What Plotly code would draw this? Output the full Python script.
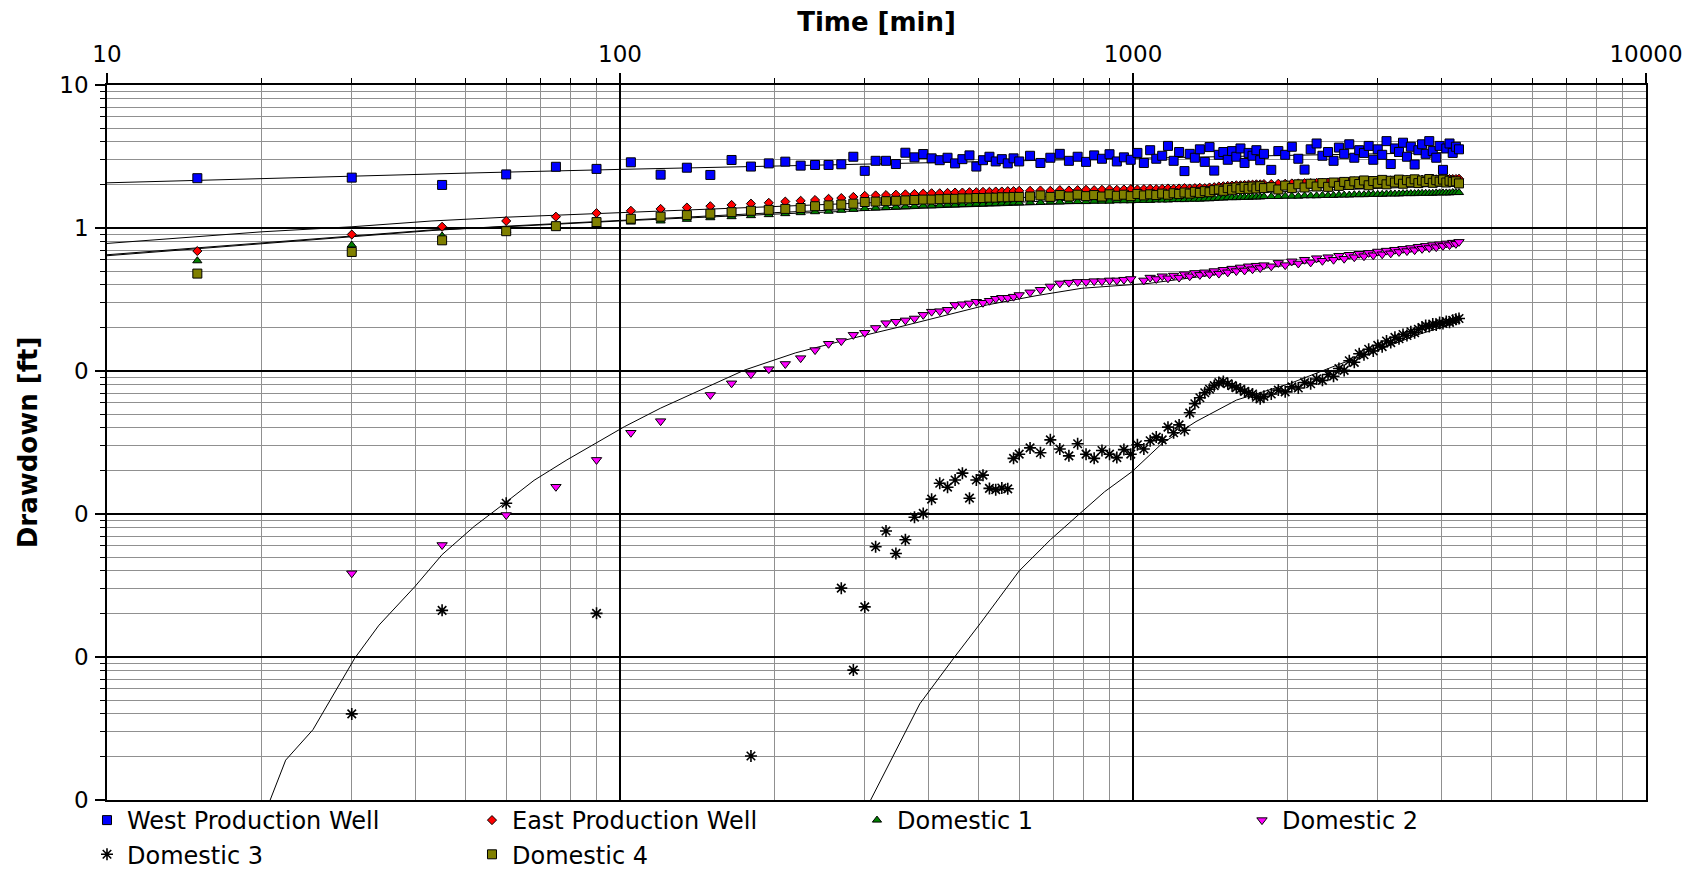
import plotly.graph_objects as go

# ---------------- data ----------------
TIME = [15, 30, 45, 60, 75, 90, 105, 120, 135, 150, 165, 180, 195, 210, 225, 240, 255, 270, 285, 300,
        315, 330, 345, 360, 375, 390, 405, 420, 435, 450, 465, 480, 495, 510, 525, 540, 555, 570, 585, 600,
        630, 660, 690, 720, 750, 780, 810, 840, 870, 900, 930, 960, 990, 1020, 1050, 1080, 1110, 1140, 1170, 1200,
        1230, 1260, 1290, 1320, 1350, 1380, 1410, 1440, 1470, 1500, 1530, 1560, 1590, 1620, 1650, 1680, 1710, 1740, 1770, 1800,
        1860, 1920, 1980, 2040, 2100, 2160, 2220, 2280, 2340, 2400, 2460, 2520, 2580, 2640, 2700, 2760, 2820, 2880, 2940, 3000,
        3060, 3120, 3180, 3240, 3300, 3360, 3420, 3480, 3540, 3600, 3660, 3720, 3780, 3840, 3900, 3960, 4020, 4080, 4140, 4200,
        4260, 4320]

WEST = [2.23, 2.25, 2.00, 2.37, 2.68, 2.59, 2.88, 2.36, 2.64, 2.35, 2.99, 2.69, 2.83, 2.91, 2.73, 2.76, 2.76, 2.79, 3.15, 2.51,
        2.95, 2.95, 2.80, 3.36, 3.12, 3.29, 3.07, 2.98, 3.10, 2.83, 3.03, 3.22, 2.69, 2.98, 3.15, 2.92, 3.03, 2.83, 3.07, 2.92,
        3.20, 2.85, 3.10, 3.30, 2.95, 3.15, 2.90, 3.22, 3.05, 3.28, 2.92, 3.12, 3.00, 3.35, 2.85, 3.50, 3.05, 3.20, 3.75, 2.95,
        3.40, 2.50, 3.30, 3.10, 3.55, 2.90, 3.68, 2.52, 3.25, 3.40, 3.00, 3.45, 3.15, 3.60, 2.85, 3.35, 3.20, 3.50, 2.98, 3.30,
        2.55, 3.45, 3.25, 3.70, 3.05, 2.56, 3.55, 3.90, 3.20, 3.40, 2.95, 3.65, 3.30, 3.85, 3.10, 3.50, 3.35, 3.75, 3.00, 3.55,
        3.25, 4.05, 2.80, 3.60, 3.40, 3.95, 3.15, 3.70, 2.78, 3.50, 3.85, 3.30, 4.05, 3.45, 3.10, 3.75, 2.55, 3.60, 3.90, 3.35,
        3.70, 3.55]

EAST = [0.69, 0.90, 1.02, 1.12, 1.20, 1.27, 1.32, 1.36, 1.39, 1.42, 1.45, 1.48, 1.50, 1.53, 1.55, 1.57, 1.60, 1.62, 1.65, 1.68,
        1.69, 1.70, 1.71, 1.72, 1.73, 1.74, 1.75, 1.75, 1.76, 1.77, 1.77, 1.78, 1.78, 1.79, 1.79, 1.80, 1.80, 1.81, 1.81, 1.82,
        1.82, 1.83, 1.82, 1.84, 1.83, 1.84, 1.85, 1.84, 1.85, 1.86, 1.85, 1.86, 1.87, 1.86, 1.87, 1.88, 1.87, 1.88, 1.89, 1.88,
        1.89, 1.90, 1.89, 1.90, 1.91, 1.90, 1.92, 1.93, 1.95, 1.96, 1.97, 1.98, 1.99, 1.99, 2.00, 2.01, 2.01, 2.02, 2.02, 2.03,
        2.03, 2.04, 2.04, 2.05, 2.05, 2.06, 2.06, 2.07, 2.07, 2.08, 2.08, 2.09, 2.10, 2.11, 2.12, 2.12, 2.13, 2.13, 2.14, 2.14,
        2.15, 2.15, 2.15, 2.16, 2.16, 2.16, 2.17, 2.17, 2.17, 2.18, 2.18, 2.18, 2.18, 2.19, 2.19, 2.19, 2.19, 2.20, 2.20, 2.20,
        2.20, 2.21]

DOM1 = [0.59, 0.76, 0.88, 0.96, 1.02, 1.06, 1.10, 1.12, 1.15, 1.18, 1.20, 1.22, 1.24, 1.26, 1.28, 1.30, 1.31, 1.33, 1.35, 1.37,
        1.38, 1.39, 1.40, 1.41, 1.42, 1.43, 1.43, 1.44, 1.45, 1.45, 1.46, 1.46, 1.47, 1.47, 1.48, 1.48, 1.49, 1.49, 1.50, 1.50,
        1.51, 1.51, 1.52, 1.52, 1.53, 1.53, 1.53, 1.54, 1.54, 1.54, 1.55, 1.55, 1.55, 1.56, 1.56, 1.56, 1.57, 1.57, 1.57, 1.58,
        1.58, 1.58, 1.59, 1.59, 1.59, 1.60, 1.60, 1.61, 1.62, 1.62, 1.63, 1.63, 1.63, 1.64, 1.64, 1.64, 1.65, 1.65, 1.65, 1.66,
        1.66, 1.66, 1.67, 1.67, 1.67, 1.68, 1.68, 1.68, 1.69, 1.69, 1.69, 1.70, 1.70, 1.70, 1.71, 1.71, 1.71, 1.72, 1.72, 1.72,
        1.72, 1.73, 1.73, 1.73, 1.73, 1.74, 1.74, 1.74, 1.74, 1.75, 1.75, 1.75, 1.75, 1.75, 1.76, 1.76, 1.76, 1.76, 1.76, 1.77,
        1.77, 1.77]

DOM2 = [None, 0.00385, 0.00607, 0.00984, 0.0155, 0.0239, 0.037, 0.0446, None, 0.068, 0.082, 0.095, 0.103, 0.112, 0.123, 0.140, 0.155, 0.162, 0.179, 0.185,
        0.200, 0.216, 0.221, 0.226, 0.233, 0.247, 0.260, 0.262, 0.268, 0.290, 0.293, 0.297, 0.305, 0.300, 0.310, 0.320, 0.325, 0.325, 0.331, 0.340,
        0.355, 0.370, 0.390, 0.410, 0.415, 0.420, 0.420, 0.425, 0.425, 0.430, 0.430, 0.435, 0.440, None, 0.430, 0.450, 0.440, 0.460, 0.445, 0.465,
        0.450, 0.475, 0.460, 0.485, 0.470, 0.490, 0.475, 0.500, 0.480, 0.510, 0.490, 0.520, 0.500, 0.530, 0.505, 0.540, 0.515, 0.545, 0.525, 0.550,
        0.540, 0.570, 0.550, 0.585, 0.565, 0.600, 0.575, 0.615, 0.590, 0.625, 0.600, 0.640, 0.610, 0.650, 0.625, 0.660, 0.635, 0.670, 0.645, 0.685,
        0.655, 0.695, 0.665, 0.705, 0.680, 0.715, 0.690, 0.725, 0.700, 0.740, 0.715, 0.750, 0.725, 0.760, 0.735, 0.770, 0.750, 0.780, 0.760, 0.790,
        0.775, 0.800]

DOM3 = [None, 0.0004, 0.00212, 0.0119, None, 0.00202, None, None, None, None, None, 0.000203, None, None, None, None, None, 0.00303, 0.00081, 0.00224,
        0.0059, 0.0076, 0.0053, 0.0066, 0.0095, 0.0101, 0.0127, 0.0164, 0.0154, 0.0173, 0.0193, 0.0129, 0.0173, 0.0187, 0.0151, 0.0148, 0.0152, 0.0150, 0.0245, 0.0262,
        0.0290, 0.0268, 0.0330, 0.0285, 0.0255, 0.0310, 0.0262, 0.0245, 0.0278, 0.0262, 0.0248, 0.0282, 0.0262, 0.0305, 0.0285, 0.0325, 0.0345, 0.0330, 0.0405, 0.0370,
        0.0420, 0.0385, 0.0510, 0.0590, 0.0650, 0.0705, 0.0745, 0.0790, 0.0830, 0.0845, 0.0815, 0.0790, 0.0765, 0.0745, 0.0720, 0.0700, 0.0690, 0.0655, 0.0640, 0.0665,
        0.0690, 0.0735, 0.0715, 0.0775, 0.0760, 0.0830, 0.0815, 0.0880, 0.0860, 0.0945, 0.0920, 0.1040, 0.1010, 0.1180, 0.1150, 0.1320, 0.1300, 0.1420, 0.1380, 0.1510,
        0.1480, 0.1620, 0.1580, 0.1720, 0.1680, 0.1800, 0.1770, 0.1880, 0.1850, 0.1960, 0.2010, 0.2080, 0.2050, 0.2130, 0.2100, 0.2180, 0.2150, 0.2220, 0.2190, 0.2260,
        0.2300, 0.2330]

DOM4 = [0.48, 0.68, 0.82, 0.95, 1.03, 1.10, 1.16, 1.20, 1.23, 1.26, 1.29, 1.32, 1.34, 1.36, 1.38, 1.42, 1.44, 1.46, 1.48, 1.52,
        1.53, 1.54, 1.55, 1.56, 1.57, 1.58, 1.58, 1.59, 1.60, 1.60, 1.61, 1.61, 1.62, 1.62, 1.63, 1.63, 1.64, 1.64, 1.65, 1.65,
        1.66, 1.69, 1.65, 1.70, 1.66, 1.71, 1.67, 1.70, 1.66, 1.72, 1.68, 1.71, 1.67, 1.73, 1.69, 1.72, 1.70, 1.74, 1.71, 1.75,
        1.73, 1.77, 1.74, 1.79, 1.76, 1.81, 1.78, 1.84, 1.86, 1.82, 1.90, 1.85, 1.92, 1.87, 1.94, 1.88, 1.95, 1.89, 1.96, 1.90,
        1.93, 1.86, 1.98, 1.90, 2.02, 1.92, 2.04, 1.95, 2.06, 1.94, 2.08, 1.97, 2.10, 2.00, 2.12, 2.03, 2.15, 1.99, 2.13, 2.05,
        2.17, 2.02, 2.14, 2.08, 2.18, 2.04, 2.16, 2.09, 2.19, 2.06, 2.15, 2.10, 2.20, 2.07, 2.16, 2.11, 2.18, 2.08, 2.14, 2.10,
        2.12, 2.05]

# fitted type curves
WEST_FIT_T = [10, 20, 30, 50, 100, 200, 400, 700, 1000, 2000, 4320]
WEST_FIT_S = [2.07, 2.22, 2.32, 2.42, 2.57, 2.72, 2.88, 3.00, 3.07, 3.22, 3.38]

GRP_FIT_T = [10, 20, 30, 43, 60, 100, 200, 400, 700, 1000, 2000, 4320]
EAST_FIT_S = [0.78, 0.94, 1.02, 1.12, 1.19, 1.28, 1.42, 1.56, 1.66, 1.73, 1.88, 2.03]
DOM1_FIT_S = [0.65, 0.79, 0.88, 0.97, 1.02, 1.12, 1.25, 1.38, 1.47, 1.52, 1.63, 1.74]
DOM4_FIT_S = [0.64, 0.78, 0.87, 0.96, 1.03, 1.13, 1.28, 1.43, 1.55, 1.62, 1.80, 1.98]

DOM2_FIT_T = [20.8, 22.3, 25.2, 27.8, 30.4, 33.9, 39.8, 45, 52, 59.6, 68, 78.8, 90, 102, 120, 141, 175, 220, 283, 350, 410, 520,
              650, 795, 1075, 1500, 2000, 3000, 4320]
DOM2_FIT_S = [0.0001, 0.00019, 0.00031, 0.00056, 0.00098, 0.00167, 0.0031, 0.0052, 0.0082, 0.0119, 0.0172, 0.0239, 0.0315, 0.0408,
              0.055, 0.0716, 0.1016, 0.134, 0.169, 0.203, 0.233, 0.29, 0.337, 0.379, 0.41, 0.48, 0.55, 0.65, 0.76]

DOM3_FIT_T = [308, 340, 384, 447, 504, 600, 690, 781, 880, 996, 1140, 1327, 1592, 2028, 2500, 3000, 3600, 4320]
DOM3_FIT_S = [0.0001, 0.0002, 0.00047, 0.00098, 0.00172, 0.0040, 0.0066, 0.0098, 0.0143, 0.0198, 0.0312, 0.0443, 0.0627, 0.082,
              0.11, 0.14, 0.18, 0.22]

X_TICKS = [10, 100, 1000, 10000]
X_TICK_TEXT = ["10", "100", "1000", "10000"]
Y_TICKS = [0.0001, 0.001, 0.01, 0.1, 1, 10]
Y_TICK_TEXT = ["0", "0", "0", "0", "1", "10"]

for arr in (WEST, EAST, DOM1, DOM2, DOM3, DOM4):
    assert len(arr) == len(TIME), len(arr)

FONT = "DejaVu Sans"

fig = go.Figure()

# fit lines (drawn under the points)
fit_sets = [(WEST_FIT_T, WEST_FIT_S), (GRP_FIT_T, EAST_FIT_S), (GRP_FIT_T, DOM1_FIT_S),
            (GRP_FIT_T, DOM4_FIT_S), (DOM2_FIT_T, DOM2_FIT_S), (DOM3_FIT_T, DOM3_FIT_S)]
for ft, fs in fit_sets:
    fig.add_trace(go.Scatter(x=ft, y=fs, mode="lines", line=dict(color="black", width=1),
                             showlegend=False, hoverinfo="skip"))

series = [
    ("West Production Well", WEST, "square", "#0000ff", 9, 1),
    ("East Production Well", EAST, "diamond", "#ff0000", 7, 1),
    ("Domestic 1", DOM1, "triangle-up", "#008000", 8, 1),
    ("Domestic 2", DOM2, "triangle-down", "#ff00ff", 9, 1),
    ("Domestic 3", DOM3, "asterisk-open", "#000000", 10, 1.6),
    ("Domestic 4", DOM4, "square", "#808000", 9, 1),
]
for name, vals, sym, col, size, lw in series:
    marker = dict(symbol=sym, size=size, color=col, line=dict(color="black", width=lw))
    fig.add_trace(go.Scatter(x=TIME, y=vals, mode="markers", name=name, marker=marker))

axis_common = dict(
    type="log", showgrid=True, gridcolor="#000000", gridwidth=1.5,
    showline=True, linecolor="black", linewidth=1.5, mirror=True,
    ticks="outside", ticklen=10, tickwidth=1.5, tickcolor="black",
    tickfont=dict(family=FONT, size=23, color="black"),
    zeroline=False, automargin=False, tickmode="array",
    minor=dict(dtick="D1", showgrid=True, gridcolor="#909090", gridwidth=1.3,
               ticks="outside", ticklen=5, tickcolor="black", tickwidth=1),
)

fig.update_layout(
    width=1707, height=872,
    margin=dict(l=107, r=61, t=85, b=72, autoexpand=False),
    paper_bgcolor="white", plot_bgcolor="white",
    font=dict(family=FONT, color="black"),
    xaxis=dict(axis_common, side="top", range=[1, 4],
               tickvals=X_TICKS, ticktext=X_TICK_TEXT, ticklabelstandoff=2,
               title=dict(text="<b>Time [min]</b>", font=dict(family=FONT, size=26, color="black"), standoff=2)),
    yaxis=dict(axis_common, range=[-4, 1],
               tickvals=Y_TICKS, ticktext=Y_TICK_TEXT, ticklabelstandoff=2,
               title=dict(text="<b>Drawdown [ft]</b>", font=dict(family=FONT, size=26, color="black"), standoff=14)),
    legend=dict(orientation="h", x=-0.013, xanchor="left", y=-0.1077, yanchor="bottom",
                entrywidth=340, entrywidthmode="pixels",
                font=dict(family=FONT, size=24, color="black"),
                bgcolor="rgba(0,0,0,0)", borderwidth=0, itemclick=False),
    showlegend=True,
)

fig.write_html("out.html")
